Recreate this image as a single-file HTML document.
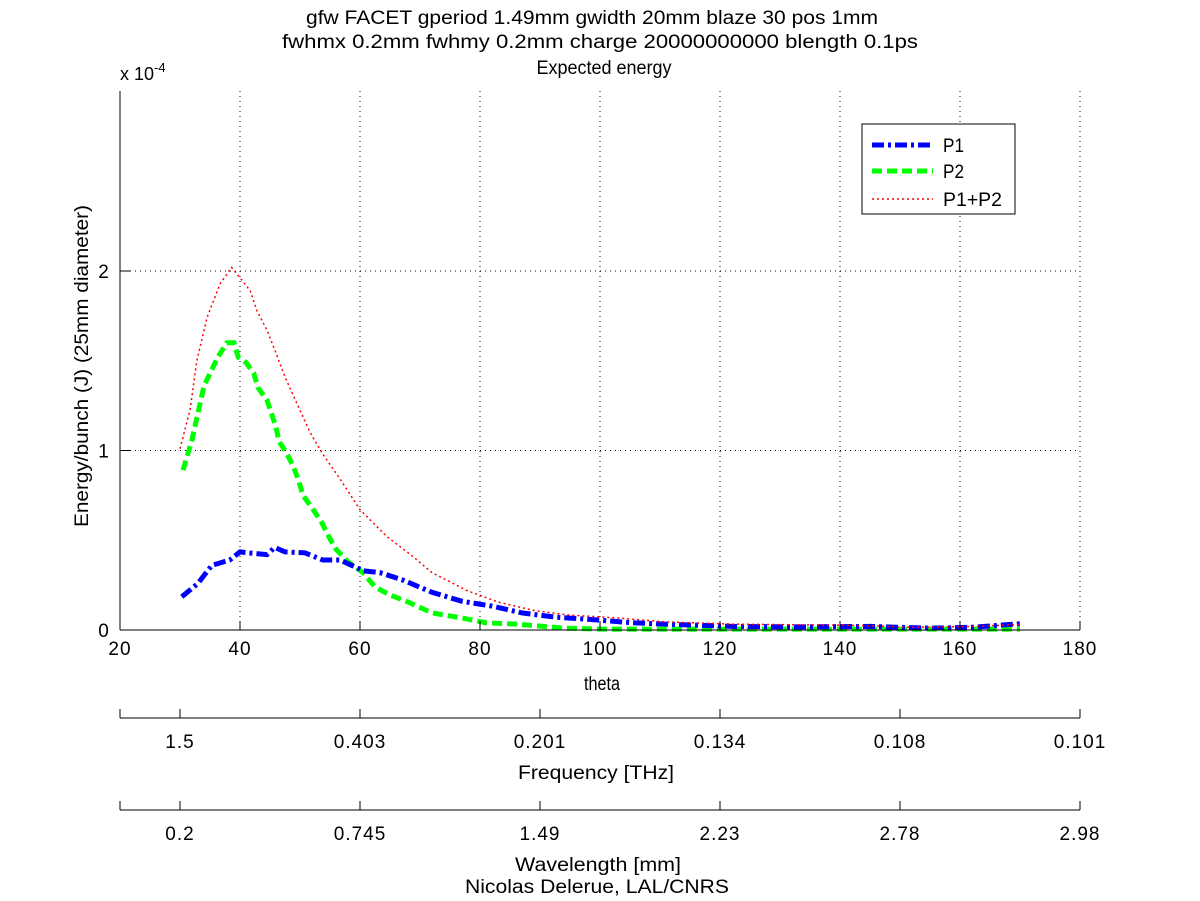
<!DOCTYPE html>
<html><head><meta charset="utf-8"><style>
body{margin:0;background:#fff}
svg{display:block;font-family:"Liberation Sans",sans-serif}
</style></head><body>
<svg id="chart" width="1200" height="901" viewBox="0 0 1200 901">
<rect width="1200" height="901" fill="#fff"/>
<g font-size="19" text-anchor="middle" fill="#000">
<text x="592" y="24" textLength="572" lengthAdjust="spacingAndGlyphs">gfw FACET gperiod 1.49mm gwidth 20mm blaze 30 pos 1mm</text>
<text x="600" y="48" textLength="636" lengthAdjust="spacingAndGlyphs">fwhmx 0.2mm fwhmy 0.2mm charge 20000000000 blength 0.1ps</text>
<text x="604" y="74" textLength="135" lengthAdjust="spacingAndGlyphs">Expected energy</text>
</g>
<text x="120" y="80" font-size="18">x 10<tspan font-size="13" dy="-8">-4</tspan></text>
<text font-size="19" text-anchor="middle" textLength="322" lengthAdjust="spacingAndGlyphs" transform="translate(88,366) rotate(-90)">Energy/bunch (J) (25mm diameter)</text>
<g id="grid"></g>
<g id="series"></g>
<line x1="120" y1="91" x2="120" y2="630" stroke="#000"/>
<line x1="120" y1="630" x2="1080" y2="630" stroke="#000"/>
<g id="axes" font-size="19" text-anchor="middle" letter-spacing="1"></g>
<text x="602" y="690" font-size="19" text-anchor="middle" textLength="36" lengthAdjust="spacingAndGlyphs">theta</text>
<text x="596" y="779" font-size="19" text-anchor="middle" textLength="156" lengthAdjust="spacingAndGlyphs">Frequency [THz]</text>
<text x="598" y="871" font-size="19" text-anchor="middle" textLength="166" lengthAdjust="spacingAndGlyphs">Wavelength [mm]</text>
<text x="597" y="893" font-size="19" text-anchor="middle" textLength="264" lengthAdjust="spacingAndGlyphs">Nicolas Delerue, LAL/CNRS</text>
<g>
<rect x="862" y="124" width="153" height="90" fill="#fff" stroke="#000"/>
<line x1="872" y1="145" x2="933" y2="145" stroke="#00f" stroke-width="5" stroke-dasharray="12,4,3,4"/>
<text x="943" y="152" font-size="19" textLength="21" lengthAdjust="spacingAndGlyphs">P1</text>
<line x1="872" y1="171" x2="933" y2="171" stroke="#0f0" stroke-width="5" stroke-dasharray="10,5"/>
<text x="943" y="178" font-size="19" textLength="21" lengthAdjust="spacingAndGlyphs">P2</text>
<line x1="872" y1="199" x2="933" y2="199" stroke="#f00" stroke-width="1.5" stroke-dasharray="2,3"/>
<text x="943" y="206" font-size="19" textLength="59" lengthAdjust="spacingAndGlyphs">P1+P2</text>
</g>
</svg>
<script>
const xTicks=[20,40,60,80,100,120,140,160,180];
const yTicks=[0,1,2];
const secTheta=[30,60,90,120,150,180];
const freqLabels=["1.5","0.403","0.201","0.134","0.108","0.101"];
const waveLabels=["0.2","0.745","1.49","2.23","2.78","2.98"];
const p1Theta=[30.3,33,35.3,38.3,40,41.3,44.5,45.8,47.5,50.8,53.8,56.7,60.5,63.3,67,72,77,82,87,92.5,97.8,105.5,113,122,133,145,155,162,170];
const p1Val=[1.85,2.6,3.6,3.9,4.35,4.3,4.2,4.6,4.35,4.3,3.9,3.9,3.3,3.2,2.8,2.1,1.6,1.33,0.95,0.72,0.6,0.4,0.3,0.2,0.17,0.2,0.1,0.15,0.35];
const p2Theta=[30.5,32,33,34,36.3,37.8,39,39.7,41,42.3,43,44.5,45.3,46,46.5,47.7,48.9,49.7,50.5,52,53.6,54.8,56,58,60.5,62.5,65,68,72,77,81,86,90,94,100,120,150,170];
const p2Val=[8.9,10.6,12.1,13.6,15.2,16.0,16.0,15.2,14.9,14.3,13.5,12.8,12.0,11.3,10.5,9.9,9.1,8.4,7.5,6.8,6.0,5.2,4.5,3.8,3.2,2.4,1.95,1.56,0.95,0.67,0.4,0.33,0.22,0.1,0.05,0.05,0.05,0.05];
const p12Theta=[30,31.7,32.8,34.5,36.7,38.6,40.3,41.7,42.8,44.5,45.8,47.5,49.5,51.7,53.8,56.7,60,64.5,68.8,72,77.8,83,88.8,94.5,103,111,122,144,152,162,170];
const p12Val=[10.1,12.3,15,17.4,19.3,20.2,19.5,18.9,17.8,16.7,15.6,14.1,12.6,11.0,9.8,8.4,6.7,5.2,4.1,3.2,2.2,1.56,1.1,0.84,0.67,0.45,0.33,0.25,0.15,0.2,0.3];
const X=t=>120+(t-20)*6;
const Y=v=>630-v*17.95;
const Yt=v=>630-v*179.5;
const NS="http://www.w3.org/2000/svg";
function mk(tag,attrs,parent){const e=document.createElementNS(NS,tag);for(const k in attrs)e.setAttribute(k,attrs[k]);parent.appendChild(e);return e;}
const grid=document.getElementById('grid'),axes=document.getElementById('axes'),series=document.getElementById('series');
xTicks.forEach(t=>{
  const x=X(t);
  if(t>20){const g=mk('line',{x1:x,y1:91,x2:x,y2:630,stroke:'#000','stroke-width':1,'stroke-dasharray':'1,4'},grid);
  
  }
  const a=mk('line',{x1:x,y1:630,x2:x,y2:621,stroke:'#000'},axes);
  
  
  const l=mk('text',{x:x,y:655},axes);l.textContent=t;
  
  
});
yTicks.forEach(v=>{
  const y=Yt(v);
  if(v>0){const g=mk('line',{x1:120,y1:y,x2:1080,y2:y,stroke:'#000','stroke-width':1,'stroke-dasharray':'1,4'},grid);
  
  }
  const a=mk('line',{x1:120,y1:y,x2:130,y2:y,stroke:'#000'},axes);
  
  
  const l=mk('text',{x:104,y:y+7},axes);l.textContent=v;
  
  
});
[[718,freqLabels,'frequency'],[810,waveLabels,'wavelength']].forEach(([ly,labs,nm])=>{
  const ax=mk('line',{x1:120,y1:ly,x2:1080,y2:ly,stroke:'#000'},axes);
  
  
  [120].concat(secTheta.map(X)).forEach(x=>{
    const t=mk('line',{x1:x,y1:ly,x2:x,y2:ly-9,stroke:'#000'},axes);
    
    
  });
  secTheta.forEach((th,i)=>{
    const l=mk('text',{x:X(th),y:ly+30},axes);l.textContent=labs[i];
    
    
  });
});
function path(ts,vs){return ts.map((t,i)=>(i?'L':'M')+X(t).toFixed(1)+','+Y(vs[i]).toFixed(1)).join(' ');}
const s2=mk('path',{d:path(p2Theta,p2Val),fill:'none',stroke:'#0f0','stroke-width':5,'stroke-dasharray':'10,5'},series);


const s1=mk('path',{d:path(p1Theta,p1Val),fill:'none',stroke:'#00f','stroke-width':5,'stroke-dasharray':'12,4,3,4'},series);


const s3=mk('path',{d:path(p12Theta,p12Val),fill:'none',stroke:'#f00','stroke-width':1.5,'stroke-dasharray':'2,3'},series);


</script>
</body></html>
